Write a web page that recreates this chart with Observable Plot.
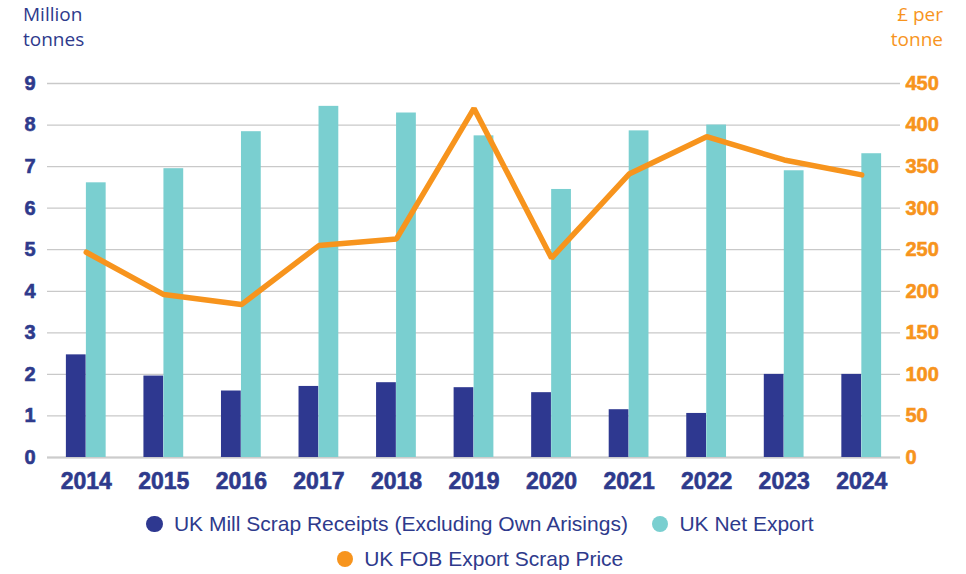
<!DOCTYPE html>
<html>
<head>
<meta charset="utf-8">
<script src="https://cdn.jsdelivr.net/npm/d3@7"></script>
<script src="https://cdn.jsdelivr.net/npm/@observablehq/plot@0.6"></script>
<style>
  html, body { margin: 0; padding: 0; background: #fff; }
  #wrap { position: relative; width: 966px; height: 574px; overflow: hidden; }
  #head { position: relative; height: 70px; }
  .unit { position: absolute; top: 2px; font-family: "Open Sans", "Noto Sans", sans-serif; font-size: 19px; line-height: 25px; }
  #unitL { left: 23px; color: #2e3a8c; }
  #unitR { right: 23px; color: #f7941d; text-align: right; }
  #chart svg { display: block; }
  #legend { width: 960px; margin-top: 9px; text-align: center; font-family: "Liberation Sans", Arial, sans-serif; font-size: 21px; line-height: 35px; color: #2e3a8c; }
  .item { display: inline-block; margin: 0 12px; white-space: nowrap; }
  .dot { display: inline-block; width: 16.5px; height: 16.5px; border-radius: 50%; margin-right: 11px; vertical-align: -1px; }
</style>
</head>
<body>
<div id="wrap">
  <div id="head">
    <div class="unit" id="unitL">Million<br>tonnes</div>
    <div class="unit" id="unitR">£ per<br>tonne</div>
  </div>
  <div id="chart"></div>
  <div id="legend"></div>
</div>
<script>
const years = ["2014","2015","2016","2017","2018","2019","2020","2021","2022","2023","2024"];
const millReceipts = [2.47, 1.96, 1.60, 1.71, 1.80, 1.68, 1.56, 1.15, 1.06, 2.00, 2.00];
const netExport = [6.61, 6.95, 7.84, 8.45, 8.29, 7.74, 6.45, 7.86, 8.00, 6.90, 7.31];
const scrapPrice = [247, 196, 184, 255, 263, 420, 240, 341, 386, 358, 340];
const leftTicks = [0, 1, 2, 3, 4, 5, 6, 7, 8, 9];
const rightTicks = [0, 50, 100, 150, 200, 250, 300, 350, 400, 450];
const seriesNames = ["UK Mill Scrap Receipts (Excluding Own Arisings)", "UK Net Export", "UK FOB Export Scrap Price"];
const seriesColors = ["#2e3890", "#7acfd0", "#f7941d"];
const textBlue = "#2e3a8c";

const priceRatio = rightTicks[rightTicks.length - 1] / leftTicks[leftTicks.length - 1];
const rows = years.map((y, i) => ({year: y, mill: millReceipts[i], exp: netExport[i], price: scrapPrice[i] / priceRatio}));

const chart = Plot.plot({
  width: 966,
  height: 427,
  marginTop: 13,
  marginBottom: 40,
  marginLeft: 47,
  marginRight: 66,
  style: {fontFamily: "'Liberation Sans', Arial, sans-serif", background: "white"},
  x: {type: "band", domain: years, paddingInner: 0.745, paddingOuter: 0.3725, round: false, label: null},
  y: {domain: [0, 9], label: null},
  marks: [
    Plot.gridY(leftTicks, {stroke: "#c9c9c9", strokeOpacity: 1, strokeWidth: 1.3}),
    Plot.ruleY([0], {stroke: "#cccccc", strokeWidth: 2}),
    Plot.barY(rows, {x: "year", y: "mill", fill: seriesColors[0], dx: -10}),
    Plot.barY(rows, {x: "year", y: "exp", fill: seriesColors[1], dx: 10}),
    Plot.lineY(rows, {x: "year", y: "price", stroke: seriesColors[2], strokeWidth: 5.5, strokeLinejoin: "miter"}),
    Plot.axisY(leftTicks, {anchor: "left", tickSize: 0, tickPadding: 12, fontSize: 20, fontWeight: "bold", fontFamily: "Liberation Sans", fill: textBlue, label: null}),
    Plot.axisY(leftTicks, {anchor: "right", tickSize: 0, tickPadding: 5, fontSize: 20, fontWeight: "bold", fontFamily: "Liberation Sans", fill: seriesColors[2], tickFormat: d => d * priceRatio, label: null}),
    Plot.axisX({tickSize: 0, tickPadding: 15, fontSize: 23, fontWeight: "bold", fontFamily: "Liberation Sans", fill: textBlue, label: null})
  ]
});
document.getElementById("chart").appendChild(chart);
// thicken tick labels slightly (the reference face is heavier)
chart.querySelectorAll('g[aria-label$="tick label"]').forEach(g => {
  const f = g.getAttribute("fill");
  if (f) { g.setAttribute("stroke", f); g.setAttribute("stroke-width", 0.6); }
});

const legend = document.getElementById("legend");
[[0, 1], [2]].forEach(r => {
  const row = document.createElement("div");
  r.forEach(i => {
    const item = document.createElement("span");
    item.className = "item";
    const dot = document.createElement("span");
    dot.className = "dot";
    dot.style.background = seriesColors[i];
    item.appendChild(dot);
    item.appendChild(document.createTextNode(seriesNames[i]));
    row.appendChild(item);
  });
  legend.appendChild(row);
});
</script>
</body>
</html>
